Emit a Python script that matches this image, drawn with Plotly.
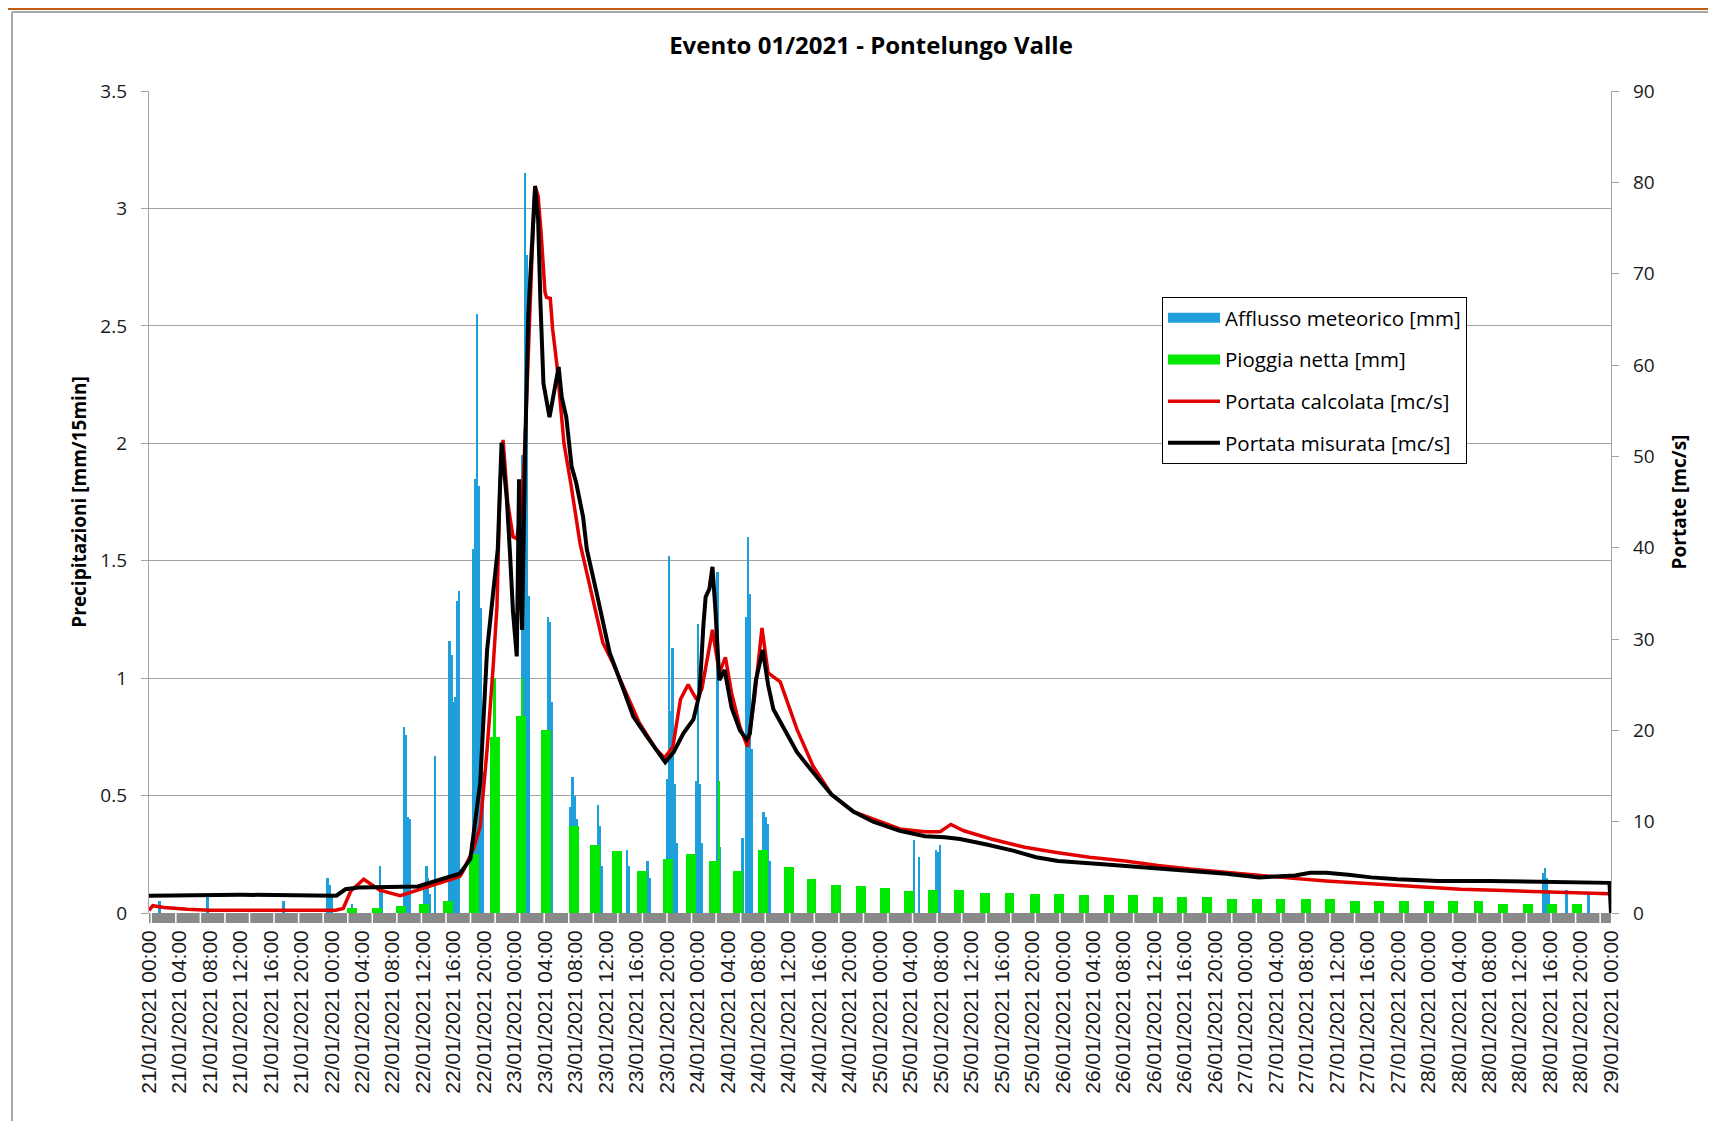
import numpy as np
import pandas as pd
import plotly.graph_objects as go

T0 = pd.Timestamp("2021-01-21 00:00")
T_END = pd.Timestamp("2021-01-29 00:00")

# ---- Afflusso meteorico [mm] (hours from 21/01/2021 00:00) ----
afflusso_h = [1.4, 7.7, 17.7, 23.5, 23.75, 24.0, 26.7, 30.4, 30.65,
              33.5, 33.75, 34.0, 34.25, 36.2, 36.45, 36.7, 36.95, 37.6,
              39.5, 39.75, 40.0, 40.25, 40.5, 40.75,
              42.35, 42.6, 42.85, 43.1, 43.35, 43.6, 43.85,
              49.1, 49.4, 49.65, 49.9, 52.45, 52.7, 52.95,
              55.4, 55.65, 55.9, 56.15, 59.0, 59.25, 59.5, 62.8, 63.05, 65.5, 65.75,
              68.05, 68.3, 68.55, 68.8, 69.05, 69.3, 71.85, 72.1, 72.35, 72.6,
              74.7, 74.95, 77.95, 78.45, 78.7, 78.95, 79.2,
              80.75, 81.0, 81.25, 81.5, 100.5, 101.15, 103.4, 103.65, 103.9,
              183.1, 183.35, 183.6, 183.85, 186.2, 189.1]
afflusso_mm = [0.05, 0.08, 0.05, 0.15, 0.12, 0.07, 0.04, 0.2, 0.1,
               0.79, 0.76, 0.41, 0.4, 0.1, 0.2, 0.15, 0.08, 0.67,
               1.16, 1.1, 0.9, 0.92, 1.33, 1.37,
               0.3, 1.55, 1.85, 2.55, 1.82, 1.3, 0.6,
               1.95, 3.15, 2.8, 1.35, 1.26, 1.24, 0.9,
               0.45, 0.58, 0.5, 0.4, 0.46, 0.37, 0.2, 0.27, 0.2, 0.22, 0.15,
               0.57, 1.52, 0.86, 1.13, 0.55, 0.3, 0.56, 1.23, 0.55, 0.3,
               1.45, 0.28, 0.32, 1.26, 1.6, 1.36, 0.7,
               0.43, 0.41, 0.38, 0.22, 0.31, 0.24, 0.27, 0.26, 0.29,
               0.17, 0.19, 0.15, 0.1, 0.1, 0.08]

# ---- Pioggia netta [mm] ----
pioggia_h = [26.7, 29.9, 33.1, 36.1, 39.3, 42.7, 45.4, 48.9, 52.1, 55.8,
             58.6, 61.5, 64.7, 68.1, 71.2, 74.2, 77.4, 80.6, 84.0, 87.0,
             90.2, 93.5, 96.7, 99.8, 103.0, 106.4, 109.8, 113.0, 116.3, 119.5,
             122.8, 126.1, 129.2, 132.5, 135.7, 139.0, 142.2, 145.5, 148.6, 151.9,
             155.1, 158.4, 161.5, 164.8, 168.1, 171.3, 174.6, 177.8, 181.1, 184.2, 187.5]
pioggia_mm = [0.02, 0.02, 0.03, 0.04, 0.05, 0.25, 0.75, 0.84, 0.78, 0.37,
              0.29, 0.265, 0.18, 0.23, 0.25, 0.22, 0.18, 0.27, 0.195, 0.145,
              0.12, 0.115, 0.105, 0.095, 0.1, 0.1, 0.085, 0.085, 0.08, 0.08,
              0.075, 0.075, 0.075, 0.07, 0.07, 0.07, 0.06, 0.06, 0.06, 0.06,
              0.06, 0.05, 0.05, 0.05, 0.05, 0.05, 0.05, 0.04, 0.04, 0.04, 0.04]
pioggia_picchi_h = [45.4, 49.0, 74.9]
pioggia_picchi_mm = [1.0, 1.0, 0.56]

# ---- Portata calcolata [mc/s] ----
calcolata_h = [0, 0.5, 2.0, 5.0, 8.0, 24.5, 25.5, 26.5, 28.2, 30.3, 33.0, 35.3,
               38.4, 40.8, 41.2, 42.6, 43.5, 44.4, 45.2, 45.7, 46.1, 46.5, 47.1,
               47.8, 48.3, 49.0, 49.4, 49.8, 50.3, 50.7, 51.1, 51.5, 52.0, 52.2,
               52.7, 53.0, 53.6, 54.5, 55.4, 56.6, 58.3, 59.6, 60.9, 62.7, 64.4,
               66.6, 67.7, 68.8, 69.8, 70.8, 71.9, 72.6, 74.0, 74.9, 75.7, 76.5,
               77.6, 78.6, 79.5, 80.5, 81.3, 82.9, 83.7, 85.1, 87.2, 89.6, 92.5,
               95.1, 98.6, 101.9, 103.9, 105.3, 107.0, 110.6, 115.0, 119.4, 123.5,
               128.2, 132.5, 137.0, 143.0, 148.7, 154.6, 160.5, 166.0, 172.2,
               178.0, 183.9, 187.0, 191.8]
calcolata_q = [0.3, 0.8, 0.6, 0.4, 0.3, 0.3, 0.5, 2.4, 3.7, 2.5, 1.9, 2.5,
               3.3, 4.0, 4.5, 7.0, 9.5, 17.9, 27.0, 33.6, 47.0, 51.8, 45.0,
               41.2, 41.0, 45.0, 52.0, 62.0, 72.0, 79.6, 78.5, 74.4, 68.0, 67.4,
               67.3, 64.0, 59.8, 51.4, 47.0, 40.5, 34.3, 29.6, 27.4, 24.1, 20.8,
               17.9, 17.0, 18.2, 23.4, 25.0, 23.4, 24.5, 31.0, 26.3, 28.0, 24.1,
               20.4, 18.2, 23.4, 31.2, 26.3, 25.3, 23.4, 20.1, 16.1, 13.0, 11.1,
               10.3, 9.2, 8.9, 8.9, 9.7, 9.0, 8.1, 7.2, 6.6, 6.1,
               5.7, 5.2, 4.8, 4.3, 3.9, 3.5, 3.2, 2.9, 2.6,
               2.45, 2.3, 2.2, 2.1]

# ---- Portata misurata [mc/s] ----
misurata_h = [0, 12.0, 24.6, 25.8, 27.5, 30.3, 35.3, 38.4, 40.8, 42.2, 43.5,
              44.4, 45.0, 45.8, 46.3, 47.0, 47.4, 47.8, 48.3, 48.6, 48.8, 49.0,
              49.4, 49.8, 50.7, 51.1, 51.4, 51.8, 52.6, 53.2, 53.8, 54.2, 54.8,
              55.5, 56.1, 57.0, 57.5, 58.8, 60.5, 62.3, 63.6, 65.4, 67.8, 68.9,
              70.2, 71.5, 72.3, 72.8, 73.1, 73.6, 74.0, 74.4, 74.9, 75.6, 76.5,
              77.6, 78.5, 78.9, 79.7, 80.6, 81.3, 82.0, 83.7, 85.1, 87.2, 89.6,
              92.5, 95.1, 98.6, 101.9, 104.5, 106.5, 110.0, 113.6, 116.5, 119.4,
              125.3, 131.0, 137.0, 141.5, 145.8, 150.5, 152.5, 154.6, 157.5,
              160.5, 164.0, 169.3, 176.0, 183.9, 191.8, 192.0]
misurata_q = [1.9, 2.0, 1.9, 2.6, 2.8, 2.8, 2.9, 3.7, 4.3, 5.9, 14.3,
              28.8, 33.2, 39.8, 51.5, 45.2, 39.5, 33.0, 28.1, 47.5, 36.0, 31.0,
              50.7, 65.2, 79.6, 76.0, 67.0, 58.0, 54.3, 57.0, 59.8, 56.5, 54.3,
              48.9, 47.1, 43.4, 39.8, 35.0, 28.5, 24.5, 21.5, 19.3, 16.5, 17.6,
              19.7, 21.2, 24.0, 31.4, 34.6, 35.5, 37.9, 33.0, 25.5, 26.6, 22.5,
              20.0, 19.0, 19.6, 25.5, 28.8, 25.0, 22.3, 19.7, 17.6, 15.4, 13.0,
              11.1, 10.0, 9.0, 8.4, 8.3, 8.1, 7.5, 6.8, 6.1, 5.7,
              5.35, 5.0, 4.6, 4.3, 3.9, 4.1, 4.4, 4.4, 4.2,
              3.9, 3.7, 3.5, 3.5, 3.4, 3.3, 0.0]


def to_time(hours):
    return [T0 + pd.Timedelta(hours=h) for h in hours]


BLUE = "#1E9FDB"
GREEN = "#00E800"
RED = "#E30000"
BLACK = "#000000"
GRID = "#A3A3A3"
TXT = "#1A1A1A"
FONT = "Open Sans"

QUARTER_MS = 15 * 60 * 1000
BLOCK_MS = 1.3 * 3600 * 1000

# page has an 8px body margin: figure is 1700x1113 placed at (8,8)
W, H = 1700, 1113
L, R, T, B = 141, 97, 83, 208
PW, PH = W - L - R, H - T - B


def px_x(fx):
    return (fx - L) / PW


def px_y(fy):
    return 1 - (fy - T) / PH


fig = go.Figure()

# legend swatches for the bar series (listed first so legend order follows the reference)
fig.add_trace(go.Scatter(x=[None], y=[None], mode="lines", line=dict(color=BLUE, width=13),
                         name="Afflusso meteorico [mm]", legendgroup="a"))
fig.add_trace(go.Scatter(x=[None], y=[None], mode="lines", line=dict(color=GREEN, width=13),
                         name="Pioggia netta [mm]", legendgroup="b"))

fig.add_trace(go.Bar(x=to_time(afflusso_h), y=afflusso_mm, width=QUARTER_MS,
                     marker=dict(color=BLUE, line=dict(width=0)),
                     name="Afflusso meteorico [mm]", legendgroup="a", showlegend=False))
fig.add_trace(go.Bar(x=to_time(pioggia_h), y=pioggia_mm, width=BLOCK_MS,
                     marker=dict(color=GREEN, line=dict(width=0)),
                     name="Pioggia netta [mm]", legendgroup="b", showlegend=False))
fig.add_trace(go.Bar(x=to_time(pioggia_picchi_h), y=pioggia_picchi_mm, width=QUARTER_MS,
                     marker=dict(color=GREEN, line=dict(width=0)),
                     name="Pioggia netta [mm]", legendgroup="b", showlegend=False))
fig.add_trace(go.Scatter(x=to_time(calcolata_h), y=calcolata_q, yaxis="y2", mode="lines",
                         line=dict(color=RED, width=3.5),
                         name="Portata calcolata [mc/s]", legendgroup="c"))
fig.add_trace(go.Scatter(x=to_time(misurata_h), y=misurata_q, yaxis="y2", mode="lines",
                         line=dict(color=BLACK, width=4),
                         name="Portata misurata [mc/s]", legendgroup="d"))

shapes = []
# gray category band under the x axis
shapes.append(dict(type="rect", xref="paper", yref="paper", x0=0, x1=1,
                   y0=-10 / PH, y1=0, fillcolor="#8A8A8A", line=dict(width=0), layer="above"))
for h in np.arange(0.3, 192, 3.225):
    shapes.append(dict(type="line", xref="paper", yref="paper", x0=h / 192, x1=h / 192,
                       y0=-10 / PH, y1=0, line=dict(color="white", width=1.5), layer="above"))
# outer chart frame and top orange rule
shapes.append(dict(type="line", xref="paper", yref="paper", x0=px_x(4), x1=px_x(W + 5),
                   y0=px_y(4), y1=px_y(4), line=dict(color="#A8A8A8", width=2)))
shapes.append(dict(type="line", xref="paper", yref="paper", x0=px_x(4), x1=px_x(4),
                   y0=px_y(4), y1=px_y(H + 5), line=dict(color="#A8A8A8", width=2)))
shapes.append(dict(type="line", xref="paper", yref="paper", x0=px_x(-5), x1=px_x(W + 5),
                   y0=px_y(0.5), y1=px_y(0.5), line=dict(color="#C55A11", width=3)))

fig.update_layout(
    width=W, height=H,
    margin=dict(l=L, r=R, t=T, b=B, autoexpand=False),
    paper_bgcolor="white", plot_bgcolor="white",
    barmode="overlay", bargap=0,
    font=dict(family=FONT, color=TXT),
    title=dict(text="Evento 01/2021 - Pontelungo Valle", x=px_x(863), xref="paper",
               xanchor="center", y=1 - 38 / H, yref="container", yanchor="middle",
               font=dict(family=FONT, size=24, color="#000000", weight="bold")),
    xaxis=dict(type="date", range=[T0, T_END], tick0=T0, dtick=4 * 3600 * 1000,
               tickformat="%d/%m/%Y %H:%M", tickangle=-90, ticks="",
               ticklabelstandoff=12, showgrid=False, zeroline=False, showline=False,
               tickfont=dict(family="Liberation Sans", size=21, color=TXT)),
    yaxis=dict(range=[0, 3.5], dtick=0.5, showgrid=True, gridcolor=GRID, gridwidth=1.3,
               zeroline=False, showline=True, linecolor=GRID, linewidth=1.3,
               ticks="outside", ticklen=7, tickcolor=GRID, tickwidth=1.3,
               ticklabelstandoff=10, tickfont=dict(family=FONT, size=19, color=TXT),
               title=dict(text="Precipitazioni [mm/15min]", standoff=8,
                          font=dict(family=FONT, size=19, color="#000000", weight="bold"))),
    yaxis2=dict(range=[0, 90], dtick=10, overlaying="y", side="right", showgrid=False,
                zeroline=False, showline=True, linecolor=GRID, linewidth=1.3,
                ticks="outside", ticklen=7, tickcolor=GRID, tickwidth=1.3,
                ticklabelstandoff=10, tickfont=dict(family=FONT, size=19, color=TXT),
                title=dict(text="Portate [mc/s]", standoff=19,
                           font=dict(family=FONT, size=19, color="#000000", weight="bold"))),
    legend=dict(x=px_x(1154), y=px_y(289), xanchor="left", yanchor="top",
                bgcolor="white", bordercolor="#000000", borderwidth=1,
                traceorder="grouped", tracegroupgap=12, itemwidth=52,
                font=dict(family=FONT, size=20.5, color="#000000")),
    shapes=shapes,
    showlegend=True,
)

fig.write_html("out.html")
